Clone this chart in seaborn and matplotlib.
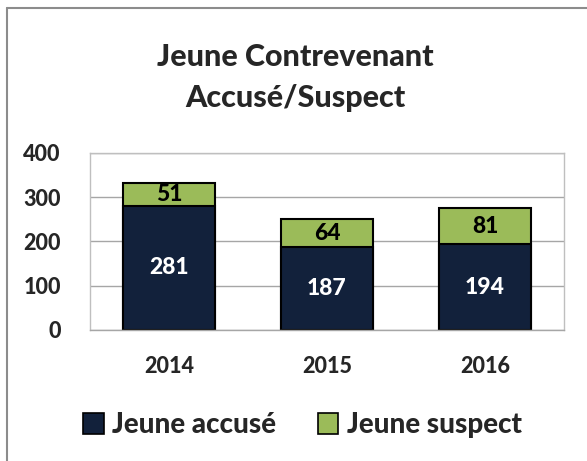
import matplotlib
matplotlib.use("Agg")
import matplotlib.pyplot as plt
from matplotlib.lines import Line2D
from matplotlib.patches import Patch
import seaborn as sns
import pandas as pd

years = ["2014", "2015", "2016"]
accuse = [281, 187, 194]
suspect = [51, 64, 81]
series_names = ["Jeune accusé", "Jeune suspect"]
y_ticks = [0, 100, 200, 300, 400]

navy = "#12213B"
green = "#9BBB59"
W = 900

sns.set_theme(style="white")
plt.rcParams["font.family"] = ["Lato", "DejaVu Sans"]

df = pd.DataFrame({"annee": years, "accuse": accuse, "suspect": suspect})
df["total"] = df["accuse"] + df["suspect"]

fig = plt.figure(figsize=(5.87, 4.61), dpi=100)
ax = fig.add_axes([0.1533, 0.2842, 0.8075, 0.384])

# stacked look: total bar in green, accused bar drawn over it
sns.barplot(data=df, x="annee", y="total", color=green, saturation=1,
            width=0.58, edgecolor="black", linewidth=1.5, ax=ax)
sns.barplot(data=df, x="annee", y="accuse", color=navy, saturation=1,
            width=0.58, edgecolor="black", linewidth=1.5, ax=ax)

for i, (a, s) in enumerate(zip(accuse, suspect)):
    ax.text(i, a / 2, str(a), ha="center", va="center", color="white",
            fontsize=16.5, fontweight=W)
    ax.text(i, a + s / 2, str(s), ha="center", va="center", color="black",
            fontsize=16.5, fontweight=W)

ax.set_ylim(0, 400)
ax.set_yticks(y_ticks)
ax.set_xlim(-0.5, 2.5)
ax.yaxis.grid(True, color="#A6A6A6", linewidth=1)
ax.set_axisbelow(True)
for sp in ax.spines.values():
    sp.set_color("#BFBFBF")
    sp.set_linewidth(1)
ax.spines["bottom"].set_color("#A6A6A6")
ax.tick_params(axis="both", length=0, labelsize=15.5)
ax.tick_params(axis="y", pad=21)
ax.tick_params(axis="x", pad=19)
for lbl in ax.get_xticklabels() + ax.get_yticklabels():
    lbl.set_fontweight(W)
ax.set_xlabel("")
ax.set_ylabel("")

fig.text(0.503, 0.832, "Jeune Contrevenant\nAccusé/Suspect", ha="center",
         va="center", fontsize=22, fontweight=W, linespacing=1.6)

handles = [Patch(facecolor=navy, edgecolor="black", linewidth=1.2),
           Patch(facecolor=green, edgecolor="black", linewidth=1.2)]
fig.legend(handles, series_names, loc="center", bbox_to_anchor=(0.515, 0.078),
           ncol=2, frameon=False, prop={"size": 20, "weight": W},
           handlelength=0.75, handleheight=0.75, handletextpad=0.3,
           columnspacing=1.5)

# partial outer frame (top and left only)
fig.add_artist(Line2D([7 / 587, 1], [1 - 8 / 461, 1 - 8 / 461],
                      transform=fig.transFigure, color="#8C8C8C", linewidth=1.5))
fig.add_artist(Line2D([7 / 587, 7 / 587], [0, 1 - 8 / 461],
                      transform=fig.transFigure, color="#8C8C8C", linewidth=1.5))

fig.savefig("out.png", dpi=100)
